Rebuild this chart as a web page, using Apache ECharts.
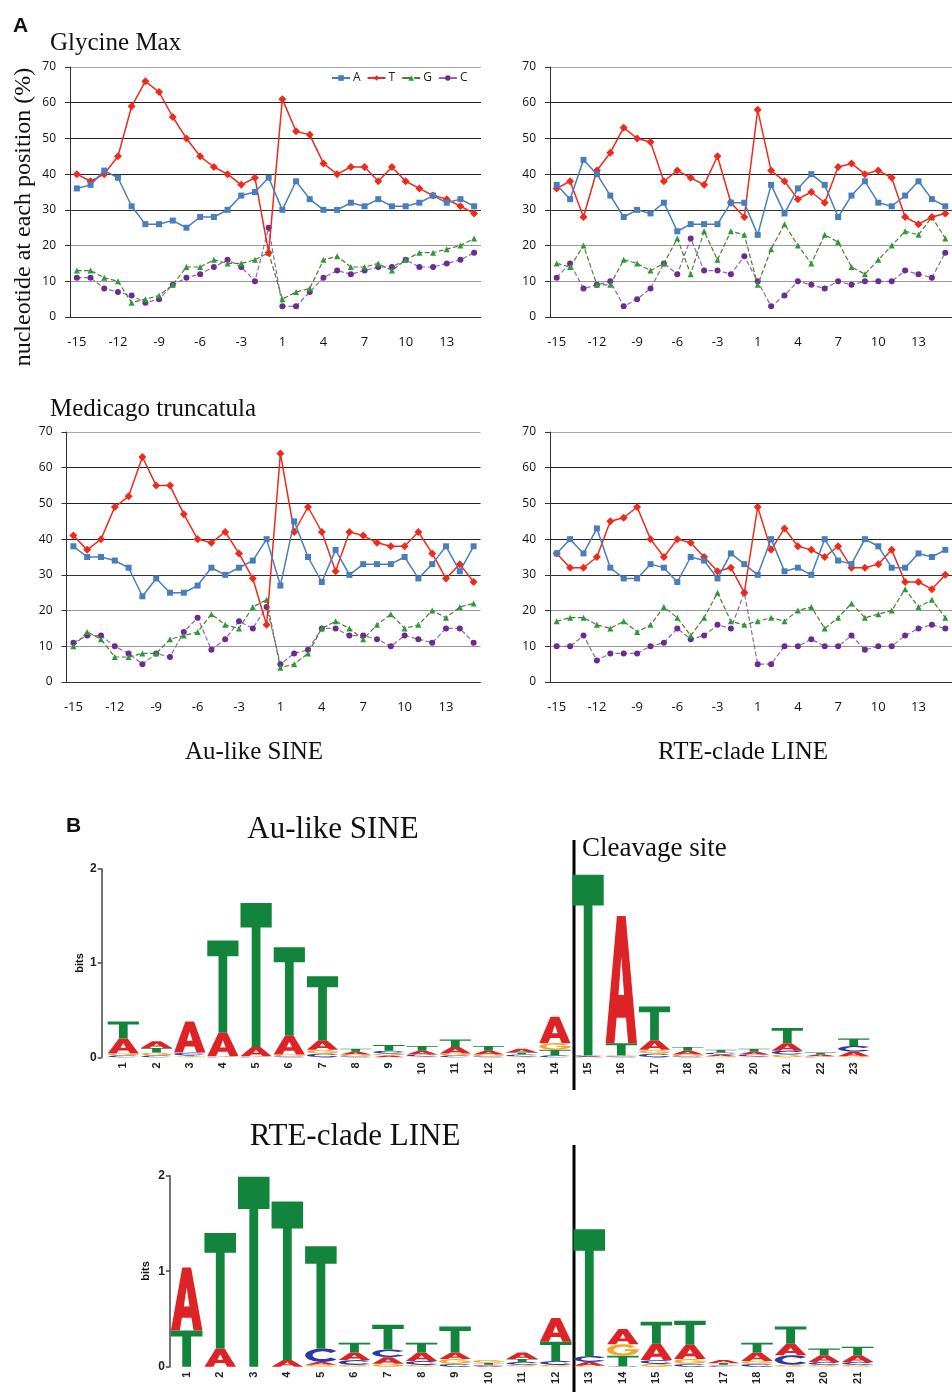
<!DOCTYPE html>
<html>
<head>
<meta charset="utf-8">
<script src="https://cdn.jsdelivr.net/npm/echarts@6/dist/echarts.min.js"></script>
<style>
  html, body { margin: 0; padding: 0; background: #fff; }
  #main { width: 952px; height: 1392px; }
</style>
</head>
<body>
<div id="main"></div>
<script>
// positions around the insertion site (no 0)
const positions = ['-15','-14','-13','-12','-11','-10','-9','-8','-7','-6','-5','-4','-3','-2','-1',
  '1','2','3','4','5','6','7','8','9','10','11','12','13','14','15']

// Glycine max, Au-like SINE (%)
const gmSineA = [36,37,41,39,31,26,26,27,25,28,28,30,34,35,39,30,38,33,30,30,32,31,33,31,31,32,34,32,33,31]
const gmSineT = [40,38,40,45,59,66,63,56,50,45,42,40,37,39,18,61,52,51,43,40,42,42,38,42,38,36,34,33,31,29]
const gmSineG = [13,13,11,10,4,5,6,9,14,14,16,15,15,16,18,5,7,8,16,17,14,14,15,13,16,18,18,19,20,22]
const gmSineC = [11,11,8,7,6,4,5,9,11,12,14,16,14,10,25,3,3,7,11,13,12,13,14,14,16,14,14,15,16,18]

// Glycine max, RTE-clade LINE (%)
const gmLineA = [37,33,44,40,34,28,30,29,32,24,26,26,26,32,32,23,37,29,36,40,37,28,34,38,32,31,34,38,33,31]
const gmLineT = [36,38,28,41,46,53,50,49,38,41,39,37,45,32,28,58,41,38,33,35,32,42,43,40,41,39,28,26,28,29]
const gmLineG = [15,14,20,9,9,16,15,13,15,22,12,24,16,24,23,9,19,26,20,15,23,21,14,12,16,20,24,23,28,22]
const gmLineC = [11,15,8,9,10,3,5,8,15,12,22,13,13,12,17,10,3,6,10,9,8,10,9,10,10,10,13,12,11,18]

// Medicago truncatula, Au-like SINE (%)
const mtSineA = [38,35,35,34,32,24,29,25,25,27,32,30,32,34,40,27,45,35,28,37,30,33,33,33,35,29,33,38,31,38]
const mtSineT = [41,37,40,49,52,63,55,55,47,40,39,42,36,29,16,64,42,49,42,31,42,41,39,38,38,42,36,29,33,28]
const mtSineG = [10,14,12,7,7,8,8,12,13,14,19,16,15,21,23,4,5,8,15,17,15,12,16,19,15,16,20,18,21,22]
const mtSineC = [11,13,13,10,8,5,8,7,14,18,9,12,17,15,21,5,8,9,15,15,13,13,12,10,13,12,11,15,15,11]

// Medicago truncatula, RTE-clade LINE (%)
const mtLineA = [36,40,36,43,32,29,29,33,32,28,35,34,29,36,33,30,40,31,32,30,40,34,33,40,38,32,32,36,35,37]
const mtLineT = [36,32,32,35,45,46,49,40,35,40,39,35,31,32,25,49,37,43,38,37,35,38,32,32,33,37,28,28,26,30]
const mtLineG = [17,18,18,16,15,17,14,16,21,18,13,18,25,17,16,17,18,17,20,21,15,18,22,18,19,20,26,21,23,18]
const mtLineC = [10,10,13,6,8,8,8,10,11,15,12,13,16,15,25,5,5,10,10,12,10,10,13,9,10,10,13,15,16,15]

const yTicks = [0, 10, 20, 30, 40, 50, 60, 70]

// sequence logo, Au-like SINE (bits per letter)
const auPos = ['1','2','3','4','5','6','7','8','9','10','11','12','13','14','15','16','17','18','19','20','21','22','23']
const auA = [0.16,0.07,0.33,0.25,0.10,0.20,0.10,0.03,0.02,0.04,0.07,0.04,0.04,0.28,0.01,1.35,0.10,0.04,0.02,0.03,0.08,0.02,0.05]
const auT = [0.18,0.05,0.01,0.98,1.53,0.94,0.68,0.03,0.06,0.05,0.08,0.05,0.02,0.06,1.92,0.13,0.36,0.04,0.03,0.03,0.16,0.02,0.08]
const auG = [0.02,0.03,0.01,0.005,0.005,0.02,0.04,0.02,0.02,0.01,0.02,0.02,0.01,0.07,0,0.01,0.04,0.02,0.01,0.01,0.03,0.005,0.01]
const auC = [0.02,0.02,0.03,0.005,0.005,0.01,0.04,0.01,0.03,0.02,0.02,0.01,0.02,0.02,0.01,0.01,0.04,0.01,0.02,0.02,0.04,0.005,0.06]

// sequence logo, RTE-clade LINE (bits per letter)
const rtPos = ['1','2','3','4','5','6','7','8','9','10','11','12','13','14','15','16','17','18','19','20','21']
const rtA = [0.66,0.19,0,0.07,0.03,0.08,0.07,0.09,0.07,0.01,0.07,0.25,0.04,0.16,0.17,0.15,0.03,0.09,0.12,0.07,0.07]
const rtT = [0.38,1.21,1.99,1.66,1.07,0.10,0.26,0.10,0.27,0.02,0.03,0.20,1.33,0.11,0.23,0.25,0.02,0.10,0.18,0.07,0.09]
const rtG = [0,0,0,0,0.02,0.02,0.03,0.02,0.05,0.03,0.02,0.02,0.01,0.12,0.03,0.05,0.01,0.03,0.02,0.02,0.02]
const rtC = [0,0,0,0,0.14,0.05,0.08,0.04,0.03,0.01,0.03,0.04,0.06,0.005,0.04,0.03,0.01,0.03,0.10,0.03,0.03]

const letters = ['A', 'C', 'G', 'T']
const letterColors = { A: '#dd2326', C: '#2b3ba6', G: '#f5a623', T: '#13843c' }
// letter outlines in a 100x100 box, stretched to each cell
const glyphs = {
  T: 'M0,0L100,0L100,17L64,17L64,100L36,100L36,17L0,17Z',
  A: 'M0,100L36,0L64,0L100,100L72,100L65,80L35,80L28,100Z M41,62L59,62L50,32Z',
  C: 'M88,19A48,50 0 1 0 88,81L72,66A27,29 0 1 1 72,34Z',
  G: 'M88,19A48,50 0 1 0 98,56L98,44L56,44L56,58L76,58A27,29 0 1 1 72,34Z'
}

function stackLogo(cols) {
  const out = []
  const n = cols.A.length
  for (let i = 0; i < n; i++) {
    const col = letters.map(l => ({ l, v: cols[l][i] })).sort((a, b) => a.v - b.v)
    let base = 0
    col.forEach(c => {
      if (c.v > 0) out.push([i, base, base + c.v, letters.indexOf(c.l)])
      base += c.v
    })
  }
  return out
}

function renderLetter(params, api) {
  const b = api.coord([api.value(0), api.value(1)])
  const t = api.coord([api.value(0), api.value(2)])
  const w = api.size([1, 0])[0] * 0.94
  const h = b[1] - t[1]
  if (h < 0.4) return null
  const l = letters[api.value(3)]
  return {
    type: 'path',
    shape: { pathData: glyphs[l], x: b[0] - w / 2, y: t[1], width: w, height: h, layout: 'cover' },
    style: { fill: letterColors[l] }
  }
}

const chart = echarts.init(document.getElementById('main'), null, { renderer: 'canvas' })

const tickFont = 'Open Sans, Liberation Sans, sans-serif'
const serif = 'Liberation Serif, Times New Roman, serif'
const logoFont = 'Liberation Sans, Arial, sans-serif'

const panels = [
  { left: 70, top: 67, width: 411 },
  { left: 550, top: 67, width: 411 },
  { left: 66.5, top: 432, width: 414 },
  { left: 550, top: 432, width: 411 }
]

const grids = panels.map(p => ({ left: p.left, top: p.top, width: p.width, height: 250 }))
grids.push({ left: 106.7, top: 869, width: 23 * 33.2, height: 188.3 })
grids.push({ left: 169.9, top: 1175.7, width: 21 * 33.55, height: 191 })

const xAxes = panels.map((p, i) => ({
  type: 'category', gridIndex: i, data: positions, boundaryGap: true,
  axisLine: { lineStyle: { color: '#333', width: 1 } },
  axisTick: { interval: 0, alignWithLabel: true, length: 5, lineStyle: { color: '#333' } },
  axisLabel: { interval: 2, fontSize: 13, color: '#111', margin: 19, fontFamily: tickFont },
  splitLine: { show: false }
}))
const yAxes = panels.map((p, i) => ({
  type: 'value', gridIndex: i, min: yTicks[0], max: yTicks[yTicks.length - 1], interval: yTicks[1] - yTicks[0],
  axisLine: { show: true, lineStyle: { color: '#333', width: 1 } },
  axisTick: { show: true, length: 5, lineStyle: { color: '#333' } },
  axisLabel: { fontSize: 12, color: '#111', margin: 14, fontFamily: tickFont },
  splitLine: { lineStyle: { color: ['#999', '#999', '#999', '#333', '#222', '#222', '#222', '#aaa'], width: 1 } }
}))

const logoX = (i, data) => ({
  type: 'category', gridIndex: i, data, boundaryGap: true,
  axisLine: { show: false }, axisTick: { show: false },
  axisLabel: { interval: 0, rotate: 90, fontSize: 11, fontWeight: 'bold', color: '#222', margin: 5, fontFamily: logoFont }
})
const logoY = (i, off) => ({
  type: 'value', gridIndex: i, min: 0, max: 2, interval: 1, offset: off,
  axisLine: { show: true, lineStyle: { color: '#444', width: 1.5 } },
  axisTick: { show: true, length: 4, lineStyle: { color: '#444', width: 1.5 } },
  axisLabel: { fontSize: 12, fontWeight: 'bold', color: '#222', margin: 5, fontFamily: logoFont },
  splitLine: { show: false }
})
xAxes.push(logoX(4, auPos), logoX(5, rtPos))
yAxes.push(logoY(4, 5), logoY(5, 0))

const seriesDefs = [
  { name: 'A', symbol: 'rect', size: 6, line: '#4a7ebb', mark: '#4a7ebb', type: 'solid', width: 1.5 },
  { name: 'T', symbol: 'diamond', size: 8, line: '#ee2a1c', mark: '#ee2a1c', type: 'solid', width: 1.5 },
  { name: 'G', symbol: 'triangle', size: 6, line: '#557a2a', mark: '#2a9a3a', type: 'dashed', width: 1.2 },
  { name: 'C', symbol: 'circle', size: 6, line: '#8a6bb0', mark: '#6a2c91', type: 'dashed', width: 1.2 }
]
const panelData = [
  [gmSineA, gmSineT, gmSineG, gmSineC],
  [gmLineA, gmLineT, gmLineG, gmLineC],
  [mtSineA, mtSineT, mtSineG, mtSineC],
  [mtLineA, mtLineT, mtLineG, mtLineC]
]

const series = []
panelData.forEach((set, gi) => {
  set.forEach((vals, si) => {
    const d = seriesDefs[si]
    series.push({
      name: d.name, type: 'line', xAxisIndex: gi, yAxisIndex: gi, data: vals,
      symbol: d.symbol, symbolSize: d.size, showAllSymbol: true,
      lineStyle: { color: d.line, width: d.width, type: d.type },
      itemStyle: { color: d.mark, borderWidth: 0 },
      z: 10 - si, animation: false
    })
  })
})

series.push({
  type: 'custom', xAxisIndex: 4, yAxisIndex: 4, renderItem: renderLetter,
  encode: { x: 0, y: [1, 2] }, data: stackLogo({ A: auA, C: auC, G: auG, T: auT }), animation: false
})
series.push({
  type: 'custom', xAxisIndex: 5, yAxisIndex: 5, renderItem: renderLetter,
  encode: { x: 0, y: [1, 2] }, data: stackLogo({ A: rtA, C: rtC, G: rtG, T: rtT }), animation: false
})

const txt = (text, x, y, font, align, rot) => ({
  type: 'text', x, y, rotation: rot || 0,
  style: { text, font, fill: '#111', textAlign: align || 'left', textVerticalAlign: 'middle' }
})

chart.setOption({
  animation: false,
  backgroundColor: '#fff',
  grid: grids,
  xAxis: xAxes,
  yAxis: yAxes,
  legend: {
    data: ['A', 'T', 'G', 'C'], left: 326, top: 67, itemWidth: 18, itemHeight: 7, itemGap: 6,
    textStyle: { fontSize: 12, color: '#222', fontFamily: tickFont, padding: [0, 0, 0, -2] }
  },
  series,
  graphic: [
    txt('A', 13, 26, 'bold 21px ' + logoFont),
    txt('B', 66, 826, 'bold 21px ' + logoFont),
    txt('Glycine Max', 50, 43, '25px ' + serif),
    txt('Medicago truncatula', 50, 409, '25px ' + serif),
    txt('Au-like SINE', 254, 752, '25px ' + serif, 'center'),
    txt('RTE-clade LINE', 743, 752, '25px ' + serif, 'center'),
    txt('Au-like SINE', 333, 830, '31px ' + serif, 'center'),
    txt('Cleavage site', 582, 849, '27px ' + serif),
    txt('RTE-clade LINE', 355, 1137, '31px ' + serif, 'center'),
    txt('nucleotide at each position (%)', 24, 217, '24px ' + serif, 'center', Math.PI / 2),
    txt('bits', 80, 963, 'bold 11px ' + logoFont, 'center', Math.PI / 2),
    txt('bits', 146, 1271, 'bold 11px ' + logoFont, 'center', Math.PI / 2),
    { type: 'line', shape: { x1: 574, y1: 840, x2: 574, y2: 1090 }, style: { stroke: '#000', lineWidth: 3 } },
    { type: 'line', shape: { x1: 574, y1: 1145, x2: 574, y2: 1392 }, style: { stroke: '#000', lineWidth: 3 } }
  ]
})
</script>
</body>
</html>
